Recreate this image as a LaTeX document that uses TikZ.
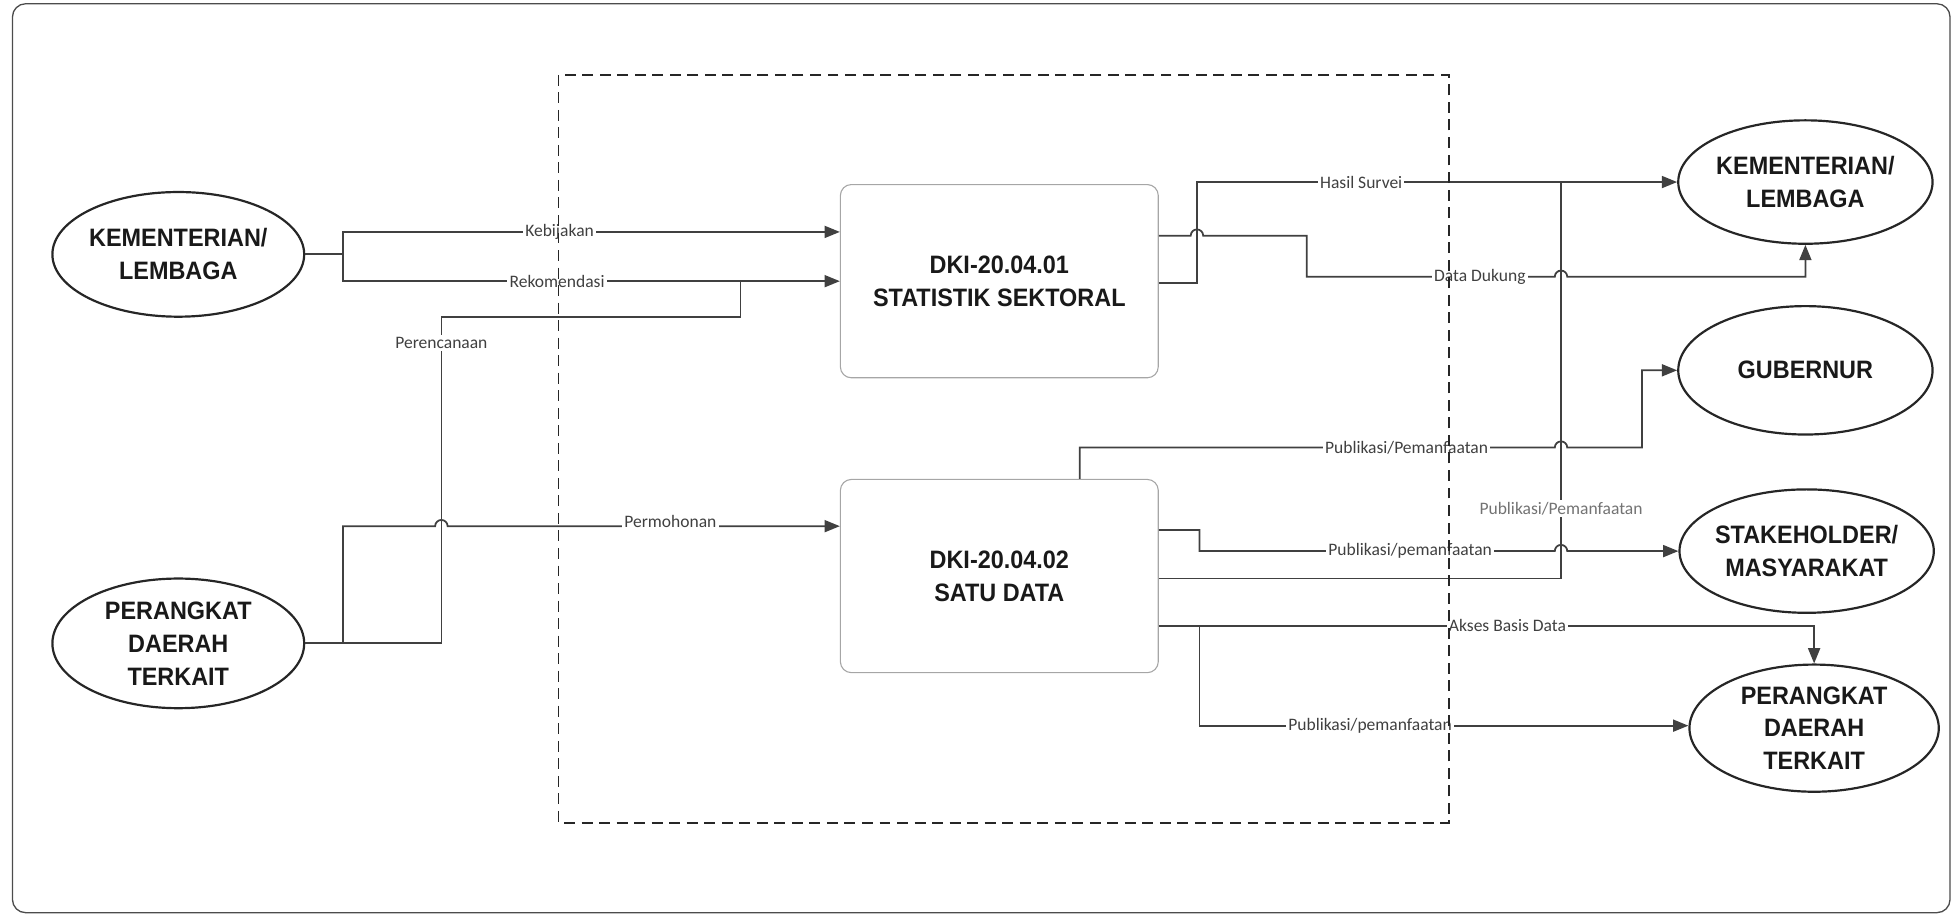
\documentclass[tikz,border=0pt]{standalone}
\usepackage{fontspec}
\setmainfont{Carlito}
\newfontfamily\entfont[FakeStretch=0.93]{Liberation Sans}
\usetikzlibrary{arrows.meta,shapes.geometric}
\tikzset{
  ent/.style={draw=black!85, line width=1pt, ellipse, inner xsep=-3pt, inner ysep=0pt, align=center,
    font=\entfont\bfseries\fontsize{11.5}{15}\selectfont, text=black!90},
  proc/.style={draw=black!35, line width=.5pt, rounded corners=5pt, minimum width=5.1cm, minimum height=3.1cm,
    align=center, font=\entfont\bfseries\fontsize{11.5}{15}\selectfont, text=black!90},
  conn/.style={draw=black!75, line width=.8pt},
  arr/.style={-{Triangle[length=7pt,width=5.5pt]}},
  lbl/.style={fill=white, inner sep=1pt, font=\fontsize{8}{9}\selectfont, text=black!75},
}
\begin{document}
\begin{tikzpicture}[x=0.02cm,y=0.02cm]
\useasboundingbox (0,0) rectangle (1568,-735);
\draw[black!70, line width=.6pt, rounded corners=6pt] (10,-3) rectangle (1564,-732);

% entitas luar
\node[ent, minimum width=4.04cm, minimum height=2cm] (kemL) at (143,-204) {KEMENTERIAN/\\LEMBAGA};
\node[ent, minimum width=4.04cm, minimum height=2.08cm] (perL) at (143,-516) {PERANGKAT\\DAERAH\\TERKAIT};
\node[ent, minimum width=4.08cm, minimum height=1.98cm] (kemR) at (1448,-146) {KEMENTERIAN/\\LEMBAGA};
\node[ent, minimum width=4.08cm, minimum height=2.06cm] (gub) at (1448,-297) {GUBERNUR};
\node[ent, minimum width=4.08cm, minimum height=1.98cm] (stk) at (1449,-442) {STAKEHOLDER/\\MASYARAKAT};
\node[ent, minimum width=4cm, minimum height=2.04cm] (perR) at (1455,-584) {PERANGKAT\\DAERAH\\TERKAIT};

% proses
\node[proc] (sek) at (801.5,-225.5) {DKI-20.04.01\\STATISTIK SEKTORAL};
\node[proc] (sd) at (801.5,-462) {DKI-20.04.02\\SATU DATA};

% masukan
\coordinate (jKem) at (275,-204);
\coordinate (jPer) at (275,-516);
\draw[conn] (kemL.east) -- (jKem);
\draw[conn,arr] (jKem) -- (275,-186) -- node[lbl,pos=.436] (lKeb) {Kebijakan} (sek.west|-0,-186);
\draw[conn,arr] (jKem) -- (275,-225.5) -- node[lbl,pos=.431] (lRek) {Rekomendasi} (sek.west);
\draw[conn] (perL.east) -- (354,-516) -- node[lbl,pos=.92] (lRen) {Perencanaan} (354,-254) -- (594,-254) -- (594,-225.5);
\draw[conn,arr] (jPer) -- (275,-422) -- (349,-422) arc[start angle=180,end angle=0,radius=5]
  -- node[lbl,pos=.568,yshift=2pt] (lMoh) {Permohonan} (sd.west|-0,-422);

% keluaran statistik sektoral
\draw[conn,arr] (sek.east|-0,-227) -- (960,-227) -- (960,-146) -- node[lbl,pos=.342] (lHas) {Hasil Survei} (kemR.west);
\draw[conn,arr] (sek.east|-0,-189) -- (955,-189) arc[start angle=180,end angle=0,radius=5] -- (1048,-189) -- (1048,-222)
  -- node[lbl,pos=.698] (lDuk) {Data Dukung} (1247,-222) arc[start angle=180,end angle=0,radius=5] -| (kemR.south);

% keluaran satu data
\draw[conn,arr] (sd.north-|866,0) -- (866,-359) -- node[lbl,pos=.688] (lGub) {Publikasi/Pemanfaatan} (1247,-359)
  arc[start angle=180,end angle=0,radius=5] -- (1317,-359) -- (1317,-297) -- (gub.west);
\draw[conn,arr] (sd.east|-0,-425) -- (962,-425) -- (962,-442) -- node[lbl,pos=.593] (lStk) {Publikasi/pemanfaatan} (1247,-442)
  arc[start angle=180,end angle=0,radius=5] -- (stk.west);
\draw[conn] (sd.east|-0,-464) -- (1252,-464) -- node[lbl,pos=.176,text=black!55] (lPub) {Publikasi/Pemanfaatan} (1252,-146);
\coordinate (jAks) at (962,-502);
\draw[conn,arr] (sd.east|-0,-502) -- node[lbl,pos=.532] (lAks) {Akses Basis Data} (1455,-502) -- (perR.north);
\draw[conn,arr] (jAks) -- (962,-582) -- node[lbl,pos=.349] (lPm) {Publikasi/pemanfaatan} (perR.west|-0,-582);

% batas sistem
\draw[black!85, line width=.8pt, dash pattern=on 5pt off 3pt] (448,-60) rectangle (1162,-660);
\end{tikzpicture}
\end{document}
